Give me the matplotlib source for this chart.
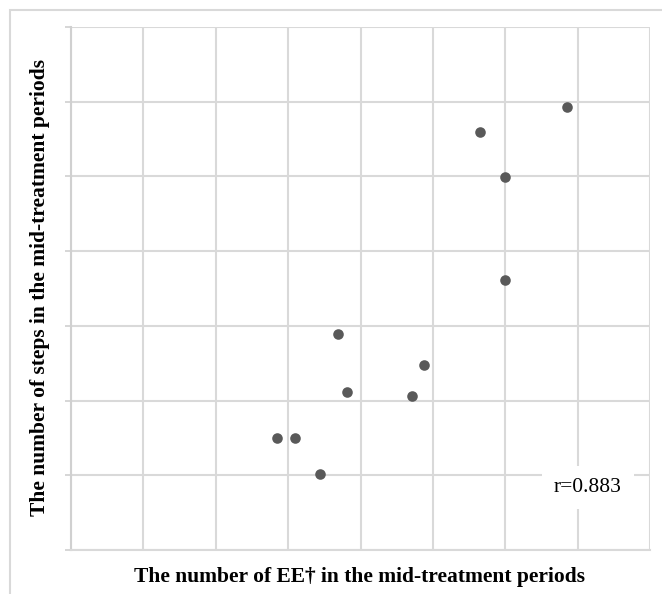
import matplotlib.pyplot as plt
from matplotlib.patches import Rectangle

# values (grid units, no tick labels shown)
ee_counts = [6.86, 5.645, 6.0, 5.99, 3.69, 4.88, 3.82, 4.71, 2.84, 3.10, 3.44]
step_counts = [5.93, 5.60, 4.99, 3.62, 2.89, 2.47, 2.11, 2.06, 1.50, 1.50, 1.02]
r_text = "r=0.883"

W, H = 662, 594
fig = plt.figure(figsize=(W / 100, H / 100), dpi=100)
plt.rcParams['font.family'] = ['Liberation Serif', 'DejaVu Serif']

# outer chart frame (cropped at right and bottom)
fig.patches.append(Rectangle((10 / W, -0.1), 1.2, 1 - 10 / H + 0.1, transform=fig.transFigure,
                             fill=False, edgecolor='#d9d9d9', linewidth=1.5))

ax = fig.add_axes([71 / W, 1 - 550 / H, (650 - 71) / W, (550 - 27) / H])
ax.set_xlim(0, 8)
ax.set_ylim(0, 7)
ax.set_xticks(range(0, 9))
ax.set_yticks(range(0, 8))
ax.grid(True, color='#d9d9d9', linewidth=1.5)
ax.set_axisbelow(True)
for s in ['top', 'right']:
    ax.spines[s].set_visible(False)
ax.spines['left'].set_color('#d0d0d0')
ax.spines['bottom'].set_color('#d9d9d9')
ax.spines['left'].set_linewidth(1.5)
ax.spines['bottom'].set_linewidth(1.5)
ax.tick_params(axis='y', length=4, width=1.2, color='#d0d0d0', labelleft=False)
ax.tick_params(axis='x', length=0, labelbottom=False)

ax.scatter(ee_counts, step_counts, s=58, color='#595959', zorder=3, linewidths=0)

ax.text(7.14, 0.84, r_text, fontsize=15.5, ha='center', va='center',
        bbox=dict(facecolor='white', edgecolor='none', pad=8.5))

fig.text(360 / W, 1 - 577 / H, "The number of EE\u2020 in the mid-treatment periods",
         ha='center', va='center', fontsize=15.5, fontweight='bold')
fig.text(40 / W, 1 - 287 / H, "The number of steps in the mid-treatment periods",
         ha='center', va='center', rotation=90, fontsize=15.5, fontweight='bold')

fig.savefig('out.png', dpi=100)
